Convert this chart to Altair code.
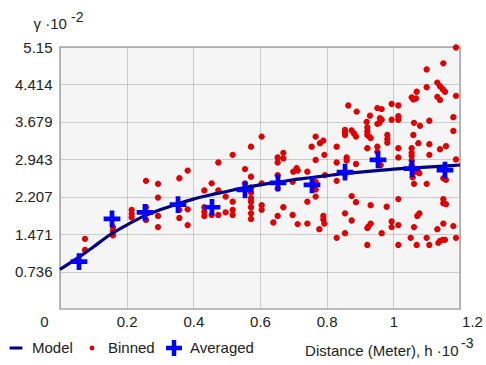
import altair as alt
import pandas as pd

# Binned semivariogram cloud: one entry per lag column, with the values stacked in it
binned_lags = [
    0.075, 0.159, 0.215, 0.258, 0.294, 0.358, 0.383, 0.433, 0.455, 0.475,
    0.497, 0.518, 0.555, 0.573, 0.605, 0.640, 0.653, 0.670, 0.698, 0.700,
    0.710, 0.713, 0.742, 0.755, 0.767, 0.778, 0.780, 0.790, 0.793, 0.795,
    0.830, 0.855, 0.860, 0.865, 0.875, 0.882, 0.888, 0.890, 0.920, 0.922,
    0.925, 0.928, 0.930, 0.932, 0.952, 0.958, 0.960, 0.962, 0.965, 0.980,
    0.982, 0.995, 1.015, 1.052, 1.055, 1.058, 1.060, 1.062, 1.065, 1.068,
    1.070, 1.072, 1.075, 1.078, 1.080, 1.100, 1.108, 1.132, 1.135, 1.140,
    1.148, 1.150, 1.155, 1.158, 1.180, 1.188,
]
binned_stacks = [
    [1.38, 1.16], [1.61, 1.53, 1.45], [1.95, 1.87, 1.80], [2.52, 2.00, 1.75],
    [2.46, 2.19, 1.83, 1.61], [2.57, 1.95, 1.79], [2.72, 1.96, 1.65],
    [2.33, 2.00, 1.91, 1.83], [2.47, 1.85], [2.88, 2.33, 1.85],
    [2.21, 1.90], [3.03, 2.11, 1.95, 1.85], [2.75, 2.47],
    [3.19, 2.60, 2.39, 2.29, 2.18, 2.11, 2.00, 1.88, 1.77],
    [3.39, 2.47, 2.04, 1.95], [1.70], [2.98, 2.88, 2.63, 2.37, 1.83],
    [3.07, 2.96, 2.00], [2.50, 1.85], [2.70],
    [2.77], [2.72, 1.67], [2.70, 2.11, 1.68], [3.19], [3.39, 2.93, 2.50, 2.35, 2.21],
    [1.57], [3.26], [3.31, 1.83, 1.76], [3.03, 1.68], [2.63],
    [3.19, 2.88, 2.52, 1.40], [3.52, 3.47, 3.42, 2.65, 1.88, 1.49], [2.98, 2.92],
    [4.00], [3.51, 2.22, 1.74], [3.45], [3.39, 2.85, 2.10], [3.88], [3.68],
    [3.57, 3.49, 3.42, 3.16, 1.59, 1.26],
    [1.62], [3.39], [3.80], [3.36, 2.04, 1.68], [3.95, 3.64, 3.19, 3.09], [3.66],
    [3.75], [2.83], [3.93, 3.72, 1.49], [2.01],
    [3.42, 3.34, 3.27], [4.03, 3.72, 1.72, 1.61],
    [4.00, 3.79, 3.72, 3.16, 2.98, 2.16, 1.65, 1.26], [1.40],
    [4.16, 3.16, 3.07, 3.01, 2.92, 2.83], [2.59], [4.12, 3.42], [3.66, 2.46, 1.61],
    [2.70], [4.14],
    [4.27, 1.26], [1.83], [3.26], [2.67, 1.88], [3.60], [4.71, 4.36, 2.46, 1.40],
    [3.70, 3.24, 3.03, 1.26], [4.45, 4.17, 1.57], [1.30], [4.38, 4.11, 3.14, 1.34],
    [4.32, 1.36], [4.83, 2.57, 2.16, 2.08, 1.68], [4.27, 1.36], [3.20, 2.54, 2.06],
    [3.77, 3.50, 1.63], [5.14, 4.19, 2.94, 1.40],
]

# Averaged values per lag bin
averaged_lags = [0.057, 0.156, 0.255, 0.354, 0.456, 0.555, 0.654, 0.756, 0.855, 0.954, 1.056, 1.155]
averaged_gamma = [0.93, 1.77, 1.90, 2.05, 2.00, 2.34, 2.48, 2.44, 2.69, 2.93, 2.76, 2.73]

# Fitted model curve
model_lags = [0.0, 0.05, 0.1, 0.15, 0.2, 0.25, 0.3, 0.35, 0.4, 0.45, 0.5, 0.55, 0.6,
              0.65, 0.7, 0.75, 0.8, 0.85, 0.9, 0.95, 1.0, 1.05, 1.1, 1.15, 1.2]
model_gamma = [0.78, 0.99, 1.22, 1.46, 1.65, 1.82, 1.95, 2.06, 2.16, 2.24, 2.31, 2.38, 2.44,
               2.49, 2.54, 2.58, 2.62, 2.66, 2.69, 2.72, 2.75, 2.77, 2.79, 2.81, 2.83]

x_ticks = [0, 0.2, 0.4, 0.6, 0.8, 1.0, 1.2]
y_ticks = [0.736, 1.471, 2.207, 2.943, 3.679, 4.414, 5.15]

series_names = ["Model", "Binned", "Averaged"]
series_colors = ["#000080", "#e00000", "#0000ff"]
series_shapes = [
    "M-0.8,-0.19H0.8V0.19H-0.8Z",
    "M0.3,0A0.3,0.3 0 1,1 -0.3,0A0.3,0.3 0 1,1 0.3,0Z",
    "M-1,-0.28H1V0.28H-1Z M-0.28,-1H0.28V1H-0.28Z",
]

FONT = "Liberation Sans"
TEXT = "#222222"

binned = pd.DataFrame(
    [(h, g) for h, stack in zip(binned_lags, binned_stacks) for g in stack],
    columns=["h", "gamma"],
)
binned["series"] = "Binned"
averaged = pd.DataFrame({"h": averaged_lags, "gamma": averaged_gamma, "series": "Averaged"})
model = pd.DataFrame({"h": model_lags, "gamma": model_gamma})

x_enc = alt.X(
    "h:Q",
    scale=alt.Scale(domain=[0, 1.2], nice=False, zero=False),
    axis=alt.Axis(
        values=x_ticks,
        format="~g",
        title="Distance (Meter), h ·10",
        titleX=398,
        titleY=46,
        titleAlign="right",
        titleBaseline="alphabetic",
        titleAngle=0,
        labelPadding=5,
        labelFlush=False,
        labelOverlap=False,
        labelOffset={
            "condition": [
                {"test": "datum.value == 0", "value": -16},
                {"test": "datum.value > 1.19", "value": 12},
            ],
            "value": 0,
        },
    ),
)
y_enc = alt.Y(
    "gamma:Q",
    scale=alt.Scale(domain=[0, 5.15], nice=False, zero=False),
    axis=alt.Axis(
        values=y_ticks,
        format=".4~g",
        title="γ ·10",
        titleAngle=0,
        titleX=-27,
        titleY=-19,
        titleAlign="left",
        titleBaseline="alphabetic",
        labelPadding=8,
    ),
)

legend = alt.Legend(
    title=None,
    orient="none",
    legendX=-52,
    legendY=293,
    direction="horizontal",
    symbolSize=256,
    symbolStrokeWidth=0,
    labelFont=FONT,
    labelFontSize=15,
    labelColor=TEXT,
    labelOffset=8,
    columnPadding=11,
    padding=0,
)
color_enc = alt.Color("series:N", scale=alt.Scale(domain=series_names, range=series_colors), legend=legend)
shape_enc = alt.Shape("series:N", scale=alt.Scale(domain=series_names, range=series_shapes), legend=legend)

binned_layer = alt.Chart(binned).mark_point(filled=True, size=440, opacity=1, strokeWidth=0).encode(
    x=x_enc, y=y_enc, color=color_enc, shape=shape_enc
)
model_layer = alt.Chart(model).mark_line(color="#000080", strokeWidth=3.2, interpolate="monotone").encode(
    x=x_enc, y=y_enc
)
averaged_layer = alt.Chart(averaged).mark_point(filled=True, size=280, opacity=1, strokeWidth=0).encode(
    x=x_enc, y=y_enc, color=color_enc, shape=shape_enc
)

# Exponent superscripts of the two axis titles
exponents = pd.DataFrame({"label": ["-2", "-3"], "axis": ["y", "x"]})
y_exponent = alt.Chart(exponents[exponents["axis"] == "y"]).mark_text(
    font=FONT, fontSize=14, color=TEXT, align="left", baseline="alphabetic"
).encode(text="label:N", x=alt.value(11), y=alt.value(-25))
x_exponent = alt.Chart(exponents[exponents["axis"] == "x"]).mark_text(
    font=FONT, fontSize=14, color=TEXT, align="left", baseline="alphabetic"
).encode(text="label:N", x=alt.value(401), y=alt.value(40 + 262 - 1))

chart = (
    alt.layer(binned_layer, model_layer, averaged_layer, y_exponent, x_exponent)
    .properties(
        width=400,
        height=262,
        autosize="none",
        padding={"left": 60, "top": 47, "right": 26, "bottom": 56},
        background="white",
    )
    .configure_view(fill="#f5f5f5", stroke="#a6a6a6", strokeWidth=1.5)
    .configure_axis(
        ticks=False,
        domain=False,
        grid=True,
        gridColor="#a0a0a0",
        gridDash=[1, 1],
        gridWidth=1,
        labelFont=FONT,
        labelFontSize=15,
        labelColor=TEXT,
        titleFont=FONT,
        titleFontSize=15,
        titleFontWeight="normal",
        titleColor=TEXT,
    )
)

chart.save("out.html", embed_options={"renderer": "svg", "actions": False})
